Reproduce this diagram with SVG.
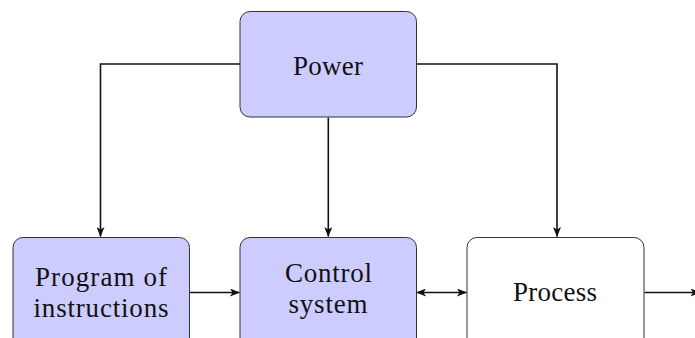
<svg xmlns="http://www.w3.org/2000/svg" width="695" height="338" viewBox="0 0 695 338">
<style>
.box{stroke:#333;stroke-width:1;}
.blue{fill:#ccccff;}
.white{fill:#ffffff;}
.lbl{font-family:"Liberation Serif","Times New Roman",serif;font-size:27px;fill:#111;text-anchor:middle;}
.conn{fill:none;stroke:#111;stroke-width:1.6;}
</style>
<defs>
<marker id="ah" viewBox="0 0 10 8" refX="9.5" refY="4" markerWidth="10" markerHeight="8" markerUnits="userSpaceOnUse" orient="auto-start-reverse">
<path d="M0,0 L10,4 L0,8 L2.5,4 z" fill="#111"/>
</marker>
</defs>
<g id="connectors">
<path class="conn" d="M240,64 H100.5 V236.5" marker-end="url(#ah)"/>
<path class="conn" d="M416.5,64 H557 V236.5" marker-end="url(#ah)"/>
<path class="conn" d="M328.3,117.5 V236.5" marker-end="url(#ah)"/>
<path class="conn" d="M189.5,292.5 H239.5" marker-end="url(#ah)"/>
<path class="conn" d="M416.5,292.5 H466.5" marker-start="url(#ah)" marker-end="url(#ah)"/>
<path class="conn" d="M644.5,292.5 H700" marker-end="url(#ah)"/>
</g>
<g id="power">
<rect class="box blue" x="240" y="11.5" width="176.5" height="105.5" rx="10"/>
<text class="lbl" x="328" y="75" textLength="70" lengthAdjust="spacing">Power</text>
</g>
<g id="program">
<rect class="box blue" x="13" y="237.5" width="176.5" height="120" rx="10"/>
<text class="lbl" x="101" y="286" textLength="132" lengthAdjust="spacing">Program of</text>
<text class="lbl" x="101" y="317" textLength="135" lengthAdjust="spacing">instructions</text>
</g>
<g id="control">
<rect class="box blue" x="240" y="237.5" width="176.5" height="120" rx="10"/>
<text class="lbl" x="328.5" y="282" textLength="87" lengthAdjust="spacing">Control</text>
<text class="lbl" x="328" y="313" textLength="79" lengthAdjust="spacing">system</text>
</g>
<g id="process">
<rect class="box white" x="467" y="237.5" width="177" height="120" rx="10"/>
<text class="lbl" x="555" y="301" textLength="84" lengthAdjust="spacing">Process</text>
</g>
</svg>
